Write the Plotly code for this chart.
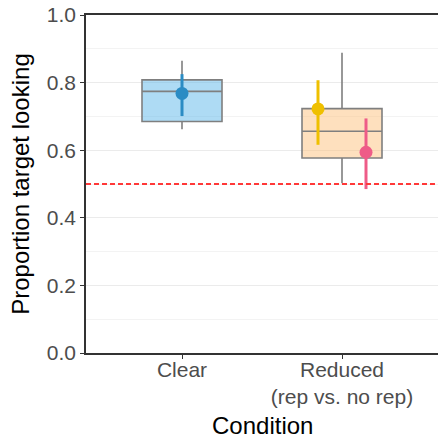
import plotly.graph_objects as go

categories = ["Clear", "Reduced<br>(rep vs. no rep)"]
cat_pos = [1, 2]
box_q1 = [0.685, 0.577]
box_median = [0.774, 0.656]
box_q3 = [0.808, 0.723]
box_low = [0.662, 0.502]
box_high = [0.865, 0.888]
box_fill = ["rgba(86,180,233,0.48)", "rgba(252,190,120,0.48)"]

# mean points with error bars
pt_cat = [1, 2, 2]
pt_dodge = [0.0, -0.15, 0.15]
pt_mean = [0.768, 0.722, 0.594]
pt_low = [0.701, 0.616, 0.485]
pt_high = [0.825, 0.807, 0.694]
pt_color = ["#2b8cc4", "#efc000", "#ee5c88"]

chance = 0.5
y_ticks = [0.0, 0.2, 0.4, 0.6, 0.8, 1.0]
x_title = "Condition"
y_title = "Proportion target looking"

fig = go.Figure()
for i in range(len(categories)):
    fig.add_trace(go.Box(
        x=[cat_pos[i]], q1=[box_q1[i]], median=[box_median[i]], q3=[box_q3[i]],
        lowerfence=[box_low[i]], upperfence=[box_high[i]],
        fillcolor=box_fill[i], line=dict(color="#7f7f7f", width=1.6),
        whiskerwidth=0, width=0.5, showlegend=False, hoverinfo="skip"))

for c, d, m, lo, hi, col in zip(pt_cat, pt_dodge, pt_mean, pt_low, pt_high, pt_color):
    fig.add_trace(go.Scatter(
        x=[c + d], y=[m], mode="markers",
        marker=dict(color=col, size=13),
        error_y=dict(type="data", symmetric=False, array=[hi - m], arrayminus=[m - lo],
                     color=col, thickness=3, width=0),
        showlegend=False))

fig.add_shape(type="line", xref="paper", x0=0, x1=1, y0=chance, y1=chance,
              line=dict(color="#ff3838", width=1.8, dash="5px,3px"))

fig.add_annotation(text=x_title, xref="paper", yref="paper", x=0.5, y=-0.215,
                   xanchor="center", yanchor="middle", showarrow=False,
                   font=dict(size=24, color="black"))

fig.update_layout(
    width=438, height=438,
    margin=dict(l=86, r=0, t=15, b=85),
    plot_bgcolor="white", paper_bgcolor="white",
    font=dict(family="Liberation Sans, Arial, sans-serif"),
)
fig.update_xaxes(
    range=[0.4, 2.6], tickvals=cat_pos, ticktext=categories,
    showgrid=False, showline=True, linecolor="#333333", linewidth=1.5, mirror=True,
    ticks="outside", ticklen=4, tickcolor="#333333",
    tickfont=dict(size=21, color="#4d4d4d"), ticklabelstandoff=-7,
    zeroline=False, automargin=False,
)
fig.update_yaxes(
    range=[0, 1], tickvals=y_ticks, ticktext=[f"{v:.1f}" for v in y_ticks],
    showgrid=True, gridcolor="#ebebeb", gridwidth=1.2,
    minor=dict(dtick=0.1, showgrid=True, gridcolor="#f3f3f3", gridwidth=1),
    showline=True, linecolor="#333333", linewidth=1.5,
    ticks="outside", ticklen=4, tickcolor="#333333",
    tickfont=dict(size=21, color="#4d4d4d"),
    title=dict(text=y_title, font=dict(size=24, color="black"), standoff=10),
    zeroline=False, automargin=False,
)

fig.write_html("out.html", config={"displayModeBar": False},
               post_script="document.body.style.margin='0';document.body.style.overflow='hidden';")
